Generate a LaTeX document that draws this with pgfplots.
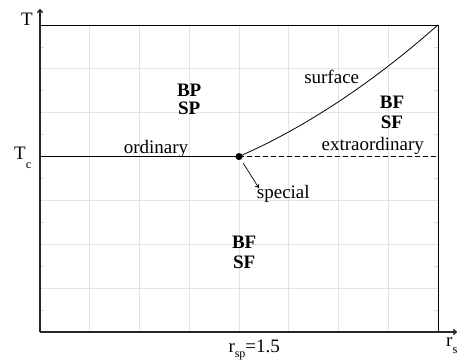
\documentclass[border=0pt]{standalone}
\usepackage{fontspec}
\setmainfont{Liberation Serif}
\usepackage{pgfplots}
\pgfplotsset{compat=1.18}
\usetikzlibrary{arrows.meta}
\begin{document}
\begin{tikzpicture}[every node/.style={font=\fontsize{19bp}{22bp}\selectfont, inner sep=0pt}]
\begin{axis}[
  scale only axis, width=398bp, height=307bp,
  xmin=0, xmax=8, ymin=0, ymax=7,
  xtick={0,...,8}, ytick={0,...,7},
  minor y tick num=1,
  xticklabels={}, yticklabels={},
  grid=major,
  major grid style={gray!22, line width=0.8bp},
  tick align=inside,
  major tick length=0pt,
  minor tick length=4bp,
  every tick/.style={gray!30, line width=0.8bp},
  axis line style={black, line width=0.8bp},
  clip=false,
]
\coordinate (O) at (rel axis cs:0,0);
\addplot[black, line width=1.3bp] coordinates {(0,4) (4,4)};
\addplot[black, line width=1.3bp, dash pattern=on 5bp off 3bp] coordinates {(4,4) (8,4)};
\addplot[black, line width=0.8bp, smooth] coordinates {(4,4) (4.5,4.2656) (5,4.5625) (5.5,4.8906) (6,5.25) (6.5,5.6406) (7,6.0625) (7.5,6.5156) (8,7)};
\addplot[only marks, mark=*, mark size=3.3bp, black] coordinates {(4,4)};
\end{axis}
% axis arrows
\draw[black!85, line width=1.3bp, -{To[length=4bp,width=6bp]}] (O) -- ([shift={(0bp,323bp)}]O);
\draw[black!85, line width=1.3bp, -{To[length=4bp,width=6bp]}] (O) -- ([shift={(417bp,0bp)}]O);
% arrow to special
\draw[black, line width=0.7bp, -{To[length=4bp,width=5bp]}] ([shift={(203.3bp,168.7bp)}]O) -- ([shift={(219bp,143.7bp)}]O);
% labels
\node[anchor=base] at ([shift={(-13bp,306bp)}]O) {T};
\node[anchor=base west] at ([shift={(-26bp,172.7bp)}]O) {T\raisebox{-9bp}{\fontsize{12.5bp}{13bp}\selectfont c}};
\node[anchor=base west] at ([shift={(188.3bp,-20bp)}]O) {r\raisebox{-5bp}{\fontsize{12bp}{13bp}\selectfont sp}=1.5};
\node[anchor=base west] at ([shift={(406bp,-14bp)}]O) {r\raisebox{-7bp}{\fontsize{12.5bp}{13bp}\selectfont s}};
\node[anchor=base] at ([shift={(116bp,178bp)}]O) {ordinary};
\node[anchor=base] at ([shift={(332.8bp,181.5bp)}]O) {extraordinary};
\node[anchor=base] at ([shift={(291.7bp,248bp)}]O) {surface};
\node[anchor=base] at ([shift={(243.3bp,133.7bp)}]O) {special};
\node[anchor=base, font=\fontsize{19bp}{22bp}\selectfont\bfseries] at ([shift={(352bp,223bp)}]O) {BF};
\node[anchor=base, font=\fontsize{19bp}{22bp}\selectfont\bfseries] at ([shift={(352bp,203.7bp)}]O) {SF};
\node[anchor=base, font=\fontsize{19bp}{22bp}\selectfont\bfseries] at ([shift={(149.2bp,235.3bp)}]O) {BP};
\node[anchor=base, font=\fontsize{19bp}{22bp}\selectfont\bfseries] at ([shift={(149.2bp,217bp)}]O) {SP};
\node[anchor=base, font=\fontsize{19bp}{22bp}\selectfont\bfseries] at ([shift={(204.2bp,83.7bp)}]O) {BF};
\node[anchor=base, font=\fontsize{19bp}{22bp}\selectfont\bfseries] at ([shift={(204.2bp,63.7bp)}]O) {SF};
\pgfresetboundingbox
\path[use as bounding box] ([shift={(-40bp,-28bp)}]O) rectangle ([shift={(418bp,332bp)}]O);
\end{tikzpicture}
\end{document}
